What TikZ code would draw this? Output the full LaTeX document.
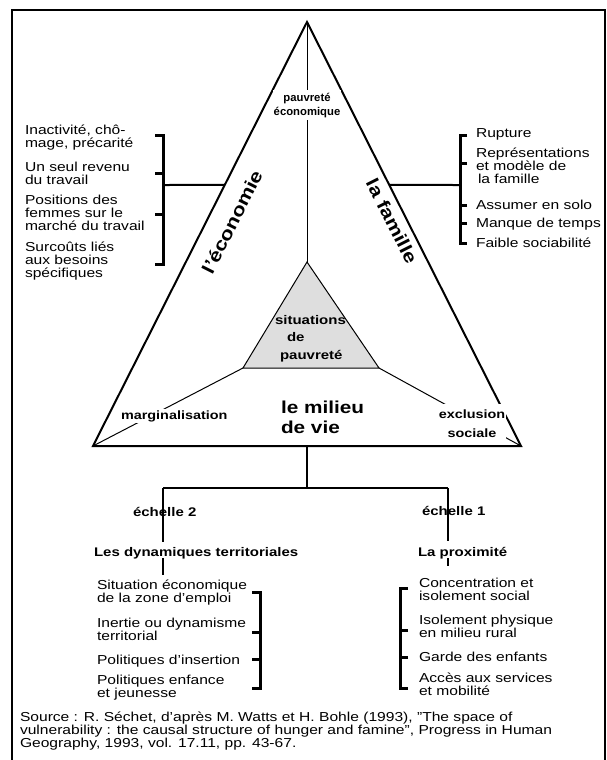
\documentclass[tikz,border=0pt]{standalone}
\usepackage{fontspec}
\setmainfont{Liberation Sans}[FakeStretch=1.2]
\newfontfamily\plainsans{Liberation Sans}
\usetikzlibrary{calc}
\newcommand\fsz[2]{\fontsize{#1}{#2}\selectfont}
\newcommand\lnsL[1]{\begin{tabular}[t]{@{}l@{}}#1\end{tabular}}
\newcommand\lnsC[1]{\begin{tabular}[t]{@{}c@{}}#1\end{tabular}}
\begin{document}
\begin{tikzpicture}[x=1pt,y=-1pt,
  txt/.style={inner sep=0pt, outer sep=0pt, anchor=base west, font=\fsz{13}{13}},
  lbl/.style={inner sep=0pt, outer sep=0pt, font=\bfseries\fsz{12.5}{17.5}},
  tri/.style={line width=2pt, line join=miter},
  thinline/.style={line width=1pt},
  conn/.style={line width=2pt},
  brk/.style={line width=3pt, line cap=butt, line join=miter},
]
\useasboundingbox (0,0) rectangle (607,760);
\clip (0,0) rectangle (607,760);
\fill[white] (0,0) rectangle (607,760);
% frame
\draw[line width=2pt] (12,10) rectangle (604.5,800);
% triangle geometry
\coordinate (A) at (307,22);
\coordinate (B) at (93,446);
\coordinate (C) at (521,446);
\coordinate (IA) at (307,262);
\coordinate (IB) at (243,368);
\coordinate (IC) at (379,368);
\fill[black!13] (IA) -- (IB) -- (IC) -- cycle;
\draw[thinline] (IA) -- (IB) -- (IC) -- cycle;
\draw[thinline] (A) -- (IA);
\draw[thinline] (IB) -- (B);
\draw[thinline] (IC) -- (C);
\draw[tri] (A) -- (B) -- (C) -- cycle;
% side connectors
\coordinate (eL) at ($(A)!0.3844!(B)$);
\coordinate (eR) at ($(A)!0.3844!(C)$);
\coordinate (bL) at (163,185);
\coordinate (bR) at (460,185);
\draw[conn] (eL) -- (bL);
\draw[conn] (eR) -- (bR);
% left bracket
\draw[brk] (155,135) -- (163,135) -- (163,264) -- (155,264);
\draw[brk] (155,173) -- (163,173);
\draw[brk] (155,214) -- (163,214);
% right bracket
\draw[brk] (467,135) -- (460,135) -- (460,243) -- (467,243);
\draw[brk] (467,163) -- (460,163);
\draw[brk] (467,205) -- (460,205);
\draw[brk] (467,223) -- (460,223);
% bottom tree
\coordinate (BM) at ($(B)!0.5!(C)$);
\coordinate (J) at (307,488);
\coordinate (JL) at (163,488);
\coordinate (JR) at (448,488);
\draw[conn] (BM) -- (J);
\draw[conn] (JL) -- (JR);
\draw[conn] (JL) -- (163,542);
\draw[conn] (JR) -- (448,541);
\draw[conn] (163,558) -- (163,575);
\draw[conn] (448,558) -- (448,566);
% lower brackets
\draw[brk] (252,592) -- (260,592) -- (260,688) -- (252,688);
\draw[brk] (252,632) -- (260,632);
\draw[brk] (252,659) -- (260,659);
\draw[brk] (408,588) -- (400,588) -- (400,688) -- (408,688);
\draw[brk] (408,630) -- (400,630);
\draw[brk] (408,657) -- (400,657);

% triangle labels
\node[lbl, font=\plainsans\bfseries\fsz{11.3}{14}, fill=white, inner sep=1pt, anchor=base] (pe) at (307,101) {\lnsC{pauvreté\\économique}};
\node[lbl, font=\bfseries\fsz{18}{20}, rotate=63.2] (eco) at (232,222) {l'économie};
\node[lbl, font=\bfseries\fsz{18}{20}, rotate=-63.2] (fam) at (392,221) {la famille};
\node[lbl, anchor=base west] (sit) at (275,324) {\lnsL{situations\\\hspace{12pt}de\\\hspace{5pt}pauvreté}};
\node[lbl, font=\bfseries\fsz{12}{19}, anchor=base west, fill=white, inner sep=1pt] (marg) at (120,419) {marginalisation};
\node[lbl, font=\bfseries\fsz{12}{19}, anchor=base, fill=white, inner sep=1pt] (excl) at (472,418) {\lnsC{exclusion\\sociale}};
\node[lbl, font=\bfseries\fsz{17.3}{20}, anchor=base west] (mil) at (281,413) {\lnsL{le milieu\\de vie}};

% left list
\node[txt] (l1) at (25,134) {\lnsL{Inactivité, chô-\\mage, précarité}};
\node[txt] (l2) at (25,171) {\lnsL{Un seul revenu\\du travail}};
\node[txt] (l3) at (25,204) {\lnsL{Positions des\\femmes sur le\\marché du travail}};
\node[txt] (l4) at (25,251) {\lnsL{Surcoûts liés\\aux besoins\\spécifiques}};
% right list
\node[txt] (r1) at (476,137) {Rupture};
\node[txt] (r2) at (476,157) {\lnsL{Représentations\\et modèle de\\\hspace{2pt}la famille}};
\node[txt] (r3) at (476,209) {Assumer en solo};
\node[txt] (r4) at (476,227) {Manque de temps};
\node[txt] (r5) at (476,247) {Faible sociabilité};

% bottom labels
\node[lbl, anchor=base west] (e2) at (133,516) {échelle 2};
\node[lbl, anchor=base west] (e1) at (422,515) {échelle 1};
\node[lbl, anchor=base west] (dyn) at (94,556) {Les dynamiques territoriales};
\node[lbl, anchor=base west] (prox) at (418,556) {La proximité};

% lower lists
\node[txt] (d1) at (97,589) {\lnsL{Situation économique\\de la zone d'emploi}};
\node[txt] (d2) at (97,627) {\lnsL{Inertie ou dynamisme\\territorial}};
\node[txt] (d3) at (97,664) {Politiques d'insertion};
\node[txt] (d4) at (97,684) {\lnsL{Politiques enfance\\et jeunesse}};
\node[txt] (p1) at (419,587) {\lnsL{Concentration et\\isolement social}};
\node[txt] (p2) at (419,624) {\lnsL{Isolement physique\\en milieu rural}};
\node[txt] (p3) at (419,661) {Garde des enfants};
\node[txt] (p4) at (419,682) {\lnsL{Accès aux services\\et mobilité}};

% source
\node[txt] (src) at (20,721) {\lnsL{Source : R. Séchet, d'après M. Watts et H. Bohle (1993), "The space of\\vulnerability : the causal structure of hunger and famine", Progress in Human\\Geography, 1993, vol. 17.11, pp. 43-67.}};
\end{tikzpicture}
\end{document}
